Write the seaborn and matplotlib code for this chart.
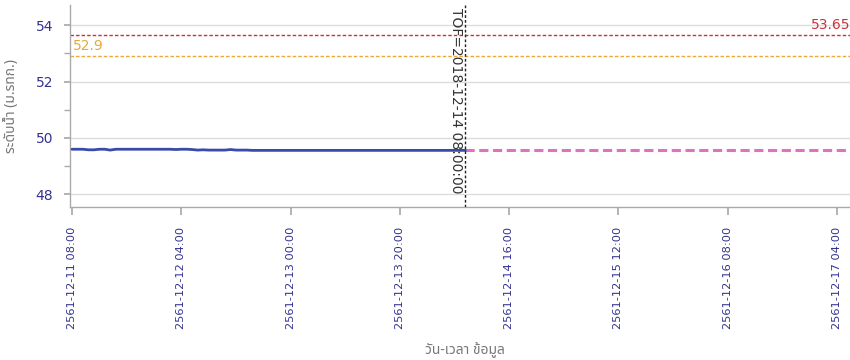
import matplotlib
matplotlib.use("Agg")
import matplotlib.pyplot as plt
from matplotlib.ticker import MultipleLocator
import seaborn as sns
import pandas as pd

# ---- data ----
obs_start = "2018-12-11 08:00"
observed_level = [
    49.60, 49.60, 49.60, 49.58, 49.58, 49.60, 49.60, 49.57, 49.60, 49.60,
    49.60, 49.60, 49.60, 49.60, 49.60, 49.60, 49.60, 49.60, 49.60, 49.59,
    49.60, 49.60, 49.59, 49.57, 49.58, 49.57, 49.57, 49.57, 49.57, 49.59,
    49.57, 49.57, 49.57, 49.56, 49.56, 49.56, 49.56, 49.56, 49.56, 49.56,
    49.56, 49.56, 49.56, 49.56, 49.56, 49.56, 49.56, 49.56, 49.56, 49.56,
    49.56, 49.56, 49.56, 49.56, 49.56, 49.56, 49.56, 49.56, 49.56, 49.56,
    49.56, 49.56, 49.56, 49.56, 49.56, 49.56, 49.56, 49.56, 49.56, 49.56,
    49.56, 49.56, 49.56,
]
forecast_start = "2018-12-14 08:00"
forecast_level = [49.56] * 73
bank_level = 53.65
alert_level = 52.9
tof_time = "2018-12-14 08:00:00"
tick_times = ["2018-12-11 08:00", "2018-12-12 04:00", "2018-12-13 00:00", "2018-12-13 20:00",
              "2018-12-14 16:00", "2018-12-15 12:00", "2018-12-16 08:00", "2018-12-17 04:00"]
tick_labels = ["2561-12-11 08:00", "2561-12-12 04:00", "2561-12-13 00:00", "2561-12-13 20:00",
               "2561-12-14 16:00", "2561-12-15 12:00", "2561-12-16 08:00", "2561-12-17 04:00"]
y_label = "ระดับน้ำ (ม.รทก.)"
x_label = "วัน-เวลา ข้อมูล"

obs = pd.DataFrame({"time": pd.date_range(obs_start, periods=len(observed_level), freq="h"),
                    "level": observed_level})
fc = pd.DataFrame({"time": pd.date_range(forecast_start, periods=len(forecast_level), freq="h"),
                   "level": forecast_level})

sns.set_theme(style="white")
thai = ["Noto Sans Thai", "Tahoma", "Loma", "Garuda", "Noto Sans", "DejaVu Sans"]
plt.rcParams["font.family"] = ["DejaVu Sans"]

fig = plt.figure(figsize=(8.5, 3.6), dpi=100)
ax = fig.add_axes([70/850, 1-207/360, 1-70/850, (207-5)/360])

tick_col = "#33338f"
grid_col = "#dddddd"

for v in [48, 50, 52, 54]:
    ax.axhline(v, color=grid_col, lw=1, zorder=0)

sns.lineplot(data=fc, x="time", y="level", ax=ax, color="#e36fbf", lw=2.2,
             linestyle=(0, (3, 1.5)), zorder=3)
sns.lineplot(data=obs, x="time", y="level", ax=ax, color="#3a4aa8", lw=2.0, zorder=4)

ax.axhline(bank_level, color="#c8323c", lw=1, linestyle=(0, (2.5, 1.5)), zorder=2)
ax.axhline(alert_level, color="#e8a93a", lw=1, linestyle=(0, (2.5, 1.5)), zorder=2)

t0 = pd.Timestamp(obs_start)
xmin = t0 - pd.Timedelta(minutes=22)
xmax = t0 + pd.Timedelta(hours=142.4)
ax.set_xlim(xmin, xmax)
ax.set_ylim(47.55, 54.72)

ax.text(t0 + pd.Timedelta(minutes=5), alert_level + 0.12, f"{alert_level:g}", color="#e8a93a",
        fontsize=10, ha="left", va="bottom")
ax.text(xmax, bank_level + 0.12, f"{bank_level:g}", color="#c8323c",
        fontsize=10, ha="right", va="bottom")

tof = pd.Timestamp(tof_time)
ax.axvline(tof, color="#222222", lw=1, linestyle=(0, (2, 1.5)), zorder=5)
ax.text(tof - pd.Timedelta(minutes=100), 54.6, f"TOF={tof_time}", rotation=-90,
        ha="center", va="top", fontsize=10, color="#333333")

ax.set_xticks([pd.Timestamp(t) for t in tick_times])
ax.set_xticklabels(tick_labels, rotation=90, color=tick_col, fontsize=8.2)
ax.yaxis.set_major_locator(MultipleLocator(2))
ax.yaxis.set_minor_locator(MultipleLocator(1))
ax.tick_params(axis="y", which="major", colors="#aaaaaa", labelcolor=tick_col, labelsize=10,
               length=4, left=True, pad=8)
ax.tick_params(axis="y", which="minor", colors="#aaaaaa", length=4, left=True)
ax.tick_params(axis="x", colors="#aaaaaa", labelcolor=tick_col, length=6, bottom=True, pad=8)

ax.set_ylabel(y_label, family=thai, color="#777777", fontsize=10, labelpad=12)
ax.set_xlabel(x_label, family=thai, color="#777777", fontsize=10)
ax.xaxis.set_label_coords((465-70)/780, -0.67)

for s in ["top", "right"]:
    ax.spines[s].set_visible(False)
for s in ["left", "bottom"]:
    ax.spines[s].set_color("#aaaaaa")
    ax.spines[s].set_linewidth(1)

fig.savefig("out.png", dpi=100)
